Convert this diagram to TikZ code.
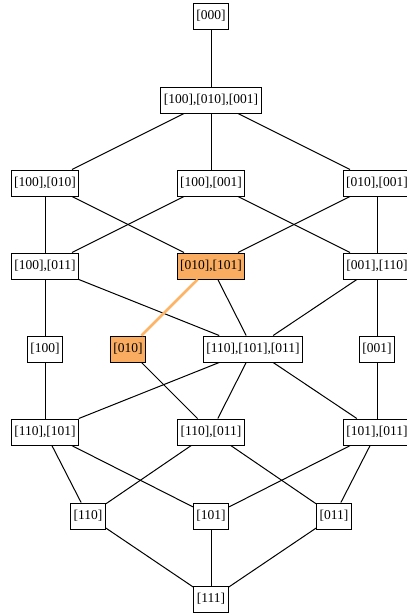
\documentclass[tikz,border=0pt]{standalone}
\usepackage{fontspec}
\setmainfont{Liberation Serif}
\definecolor{hlfill}{RGB}{250,173,96}
\definecolor{hledge}{RGB}{253,180,100}
\begin{document}
\begin{tikzpicture}[x=1pt,y=-1pt,
  cell/.style={draw=black,line width=1pt,fill=white,font=\fontsize{13.5}{15}\selectfont,
    minimum height=26pt,inner xsep=3pt,inner ysep=0pt},
  hl/.style={cell,fill=hlfill},
  link/.style={line width=1pt},
  hllink/.style={line width=2.5pt,draw=hledge}]
\useasboundingbox (0,0) rectangle (407,614);
% rows of the lattice
\node[cell] (a)   at (211,16)  {[000]};
\node[cell] (b)   at (211,100) {[100],[010],[001]};
\node[cell] (c1)  at (45,183)  {[100],[010]};
\node[cell] (c2)  at (211,183) {[100],[001]};
\node[cell] (c3)  at (377,183) {[010],[001]};
\node[cell] (d1)  at (45,266)  {[100],[011]};
\node[hl]   (d2)  at (211,266) {[010],[101]};
\node[cell] (d3)  at (377,266) {[001],[110]};
\node[cell] (e1)  at (45,349)  {[100]};
\node[hl]   (e2)  at (128,349) {[010]};
\node[cell] (e3)  at (253,349) {[110],[101],[011]};
\node[cell] (e4)  at (377,349) {[001]};
\node[cell] (f1)  at (45,432)  {[110],[101]};
\node[cell] (f2)  at (211,432) {[110],[011]};
\node[cell] (f3)  at (377,432) {[101],[011]};
\node[cell] (g1)  at (88,516)  {[110]};
\node[cell] (g2)  at (211,516) {[101]};
\node[cell] (g3)  at (334,516) {[011]};
\node[cell] (h)   at (211,599) {[111]};
% order relations
\draw[link] (a) -- (b);
\draw[link] (b) -- (c1);
\draw[link] (b) -- (c2);
\draw[link] (b) -- (c3);
\draw[link] (c1) -- (d1);
\draw[link] (c1) -- (d2);
\draw[link] (c2) -- (d1);
\draw[link] (c2) -- (d3);
\draw[link] (c3) -- (d2);
\draw[link] (c3) -- (d3);
\draw[link] (d1) -- (e1);
\draw[link] (d1) -- (e3);
\draw[hllink] (d2) -- (e2);
\draw[link] (d2) -- (e3);
\draw[link] (d3) -- (e3);
\draw[link] (d3) -- (e4);
\draw[link] (e1) -- (f1);
\draw[link] (e2) -- (f2);
\draw[link] (e3) -- (f1);
\draw[link] (e3) -- (f2);
\draw[link] (e3) -- (f3);
\draw[link] (e4) -- (f3);
\draw[link] (f1) -- (g1);
\draw[link] (f1) -- (g2);
\draw[link] (f2) -- (g1);
\draw[link] (f2) -- (g3);
\draw[link] (f3) -- (g2);
\draw[link] (f3) -- (g3);
\draw[link] (g1) -- (h);
\draw[link] (g2) -- (h);
\draw[link] (g3) -- (h);
\end{tikzpicture}
\end{document}
